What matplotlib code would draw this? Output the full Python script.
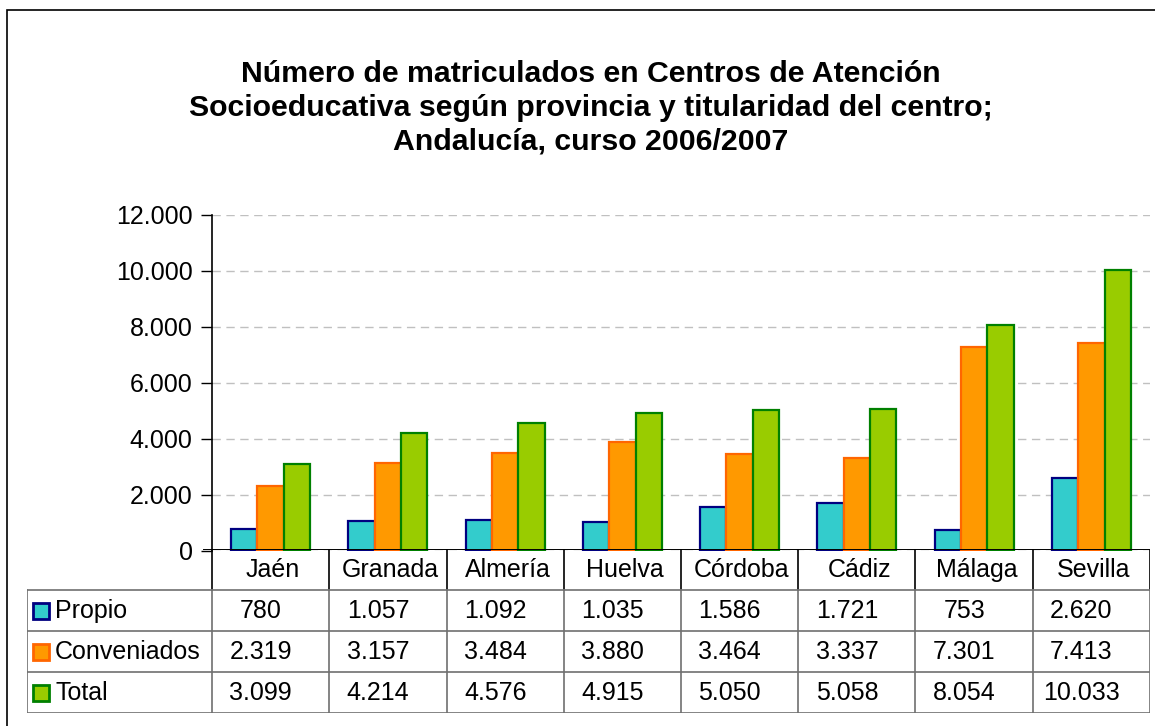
import matplotlib
matplotlib.use("Agg")
import matplotlib.pyplot as plt
import numpy as np
from matplotlib.ticker import FuncFormatter
from matplotlib.patches import Rectangle

plt.rcParams['font.family'] = ['Liberation Sans', 'DejaVu Sans']

provincias = ["Jaén", "Granada", "Almería", "Huelva", "Córdoba", "Cádiz", "Málaga", "Sevilla"]
series = ["Propio", "Conveniados", "Total"]
propio = [780, 1057, 1092, 1035, 1586, 1721, 753, 2620]
conveniados = [2319, 3157, 3484, 3880, 3464, 3337, 7301, 7413]
total = [3099, 4214, 4576, 4915, 5050, 5058, 8054, 10033]

valores = [propio, conveniados, total]
colores = ["#33CCCC", "#FF9900", "#99CC00"]
bordes = ["#000080", "#FF6600", "#008000"]

titulo = ("Número de matriculados en Centros de Atención\n"
          "Socioeducativa según provincia y titularidad del centro;\n"
          "Andalucía, curso 2006/2007")


def miles(v, pos=None):
    return f"{int(v):,}".replace(",", ".")


W, H = 1155, 726
fig = plt.figure(figsize=(W / 100, H / 100), dpi=100)

# marco exterior
fig.patches.append(Rectangle((7 / W, -0.1), 1.2, 1.1 - 10 / H, transform=fig.transFigure,
                             fill=False, edgecolor="black", linewidth=1.2))

fig.text(591 / W, 1 - 108 / H, titulo, ha="center", va="center", fontsize=21.8,
         fontweight="bold", linespacing=1.25)

# grafico de barras
left, right = 212, 1150
top, bottom = 215, 551
ax = fig.add_axes([left / W, 1 - bottom / H, (right - left) / W, (bottom - top) / H])
n = len(provincias)
x = np.arange(n)
ancho = 0.225
for i, (vals, c, b) in enumerate(zip(valores, colores, bordes)):
    ax.bar(x + (i - 1) * ancho, vals, width=ancho, color=c, edgecolor=b, linewidth=1.6, zorder=3)

ax.set_xlim(-0.5, n - 0.5)
ax.set_ylim(0, 12000)
ax.set_yticks(np.arange(0, 12001, 2000))
ax.yaxis.set_major_formatter(FuncFormatter(miles))
ax.tick_params(axis="y", labelsize=18, length=8, width=1, direction="out", pad=6)
ax.set_xticks([])
ax.grid(axis="y", color="#C0C0C0", linestyle=(0, (6, 4)), linewidth=1, zorder=0)
for s in ["top", "right", "bottom"]:
    ax.spines[s].set_visible(False)
ax.spines["left"].set_linewidth(1.2)

# tabla de datos
t_left, t_top, t_bottom = 27, 549, 713
col = (right - left) / n
tx = fig.add_axes([t_left / W, 1 - t_bottom / H, (right - t_left) / W, (t_bottom - t_top) / H])
x0 = -0.5 - (left - t_left) / col
tx.set_xlim(x0, n - 0.5)
tx.set_ylim(4, 0)
tx.axis("off")

gris = "#707070"
# linea del eje y divisiones de cabecera
tx.plot([-0.5 - 8 / col, n - 0.5], [0, 0], color="black", linewidth=1.4)
for k in range(n + 1):
    tx.plot([k - 0.5, k - 0.5], [0, 1], color="black", linewidth=1.2)
    tx.plot([k - 0.5, k - 0.5], [1, 4], color=gris, linewidth=1.2)
tx.plot([x0, x0], [1, 4], color=gris, linewidth=1.2)
for r in range(1, 5):
    tx.plot([x0, n - 0.5], [r, r], color=gris, linewidth=1.2)

for k, p in enumerate(provincias):
    tx.text(k + 0.02, 0.52, p, ha="center", va="center", fontsize=18)

for r, (nombre, vals, c, b) in enumerate(zip(series, valores, colores, bordes)):
    yy = r + 1.52
    tx.plot([x0 + 14 / col], [yy - 0.02], marker="s", markersize=11, markerfacecolor=c,
            markeredgecolor=b, markeredgewidth=2, linestyle="none")
    tx.text(x0 + 28 / col, yy, nombre, ha="left", va="center", fontsize=18)
    for k, v in enumerate(vals):
        tx.text(k - 0.085, yy, miles(v), ha="center", va="center", fontsize=18)

fig.savefig("out.png", dpi=100)
